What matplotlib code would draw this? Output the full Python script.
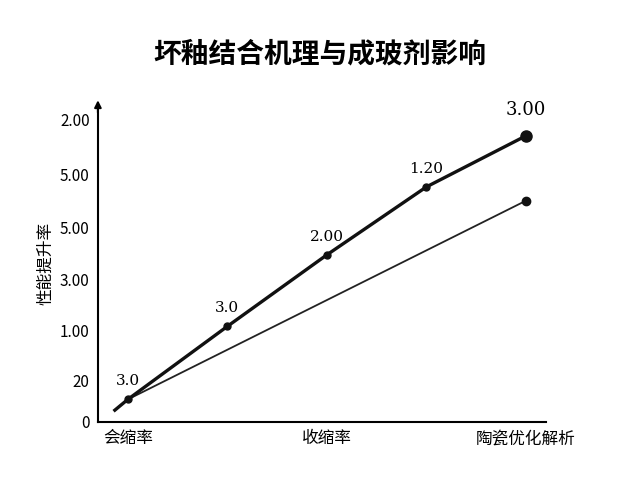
import matplotlib
matplotlib.use("Agg")
import matplotlib.pyplot as plt

plt.rcParams['font.family'] = ['Noto Sans CJK SC', 'DejaVu Sans']

x_main = [-0.13, 0, 1, 2, 3, 4]
y_main = [0.23, 0.44, 1.87, 3.27, 4.6, 5.6]
x_thin = [-0.13, 0, 4]
y_thin = [0.23, 0.44, 4.33]
pt_labels = ["3.0", "3.0", "2.00", "1.20", "3.00"]
ytick_pos = [0, 0.81, 1.79, 2.79, 3.81, 4.85, 5.92]
ytick_lab = ["0", "20", "1.00", "3.00", "5.00", "5.00", "2.00"]
xtick_pos = [0, 2, 4]
xtick_lab = ["会缩率", "收缩率", "陶瓷优化解析"]

fig = plt.figure(figsize=(6.4, 4.8), dpi=100)
ax = fig.add_axes([0.153, 0.121, 0.70, 0.66])
ax.plot(x_thin, y_thin, color='#222', lw=1.3)
ax.plot(x_thin[-1:], y_thin[-1:], 'o', color='#111', ms=6)
ax.plot(x_main, y_main, color='#111', lw=2.4)
ax.plot(x_main[1:], y_main[1:], 'o', color='#111', ms=5)
ax.plot(x_main[-1:], y_main[-1:], 'o', color='#111', ms=8)
for i, (xx, yy) in enumerate(zip(x_main[1:], y_main[1:])):
    big = i == len(pt_labels) - 1
    ax.annotate(pt_labels[i], (xx, yy), xytext=(0, 12 if big else 8),
                textcoords='offset points', ha='center', va='bottom',
                fontsize=13 if big else 11, family='DejaVu Serif')
ax.set_xlim(-0.3, 4.2)
ax.set_ylim(0, 6.2)
ax.set_yticks(ytick_pos, ytick_lab, fontsize=11)
ax.set_xticks(xtick_pos, xtick_lab, fontsize=12)
ax.tick_params(length=0, pad=6)
for s in ['top', 'right']:
    ax.spines[s].set_visible(False)
for s in ['left', 'bottom']:
    ax.spines[s].set_linewidth(1.5)
ax.annotate('', xy=(-0.3, 6.35), xytext=(-0.3, 6.0), xycoords='data',
            arrowprops=dict(arrowstyle='-|>', color='black', lw=1.5), annotation_clip=False)
ax.set_ylabel("性能提升率", fontsize=12, labelpad=4)
fig.suptitle("坏釉结合机理与成玻剂影响", fontsize=20, fontweight='bold', y=0.915)
fig.savefig("out.png")
